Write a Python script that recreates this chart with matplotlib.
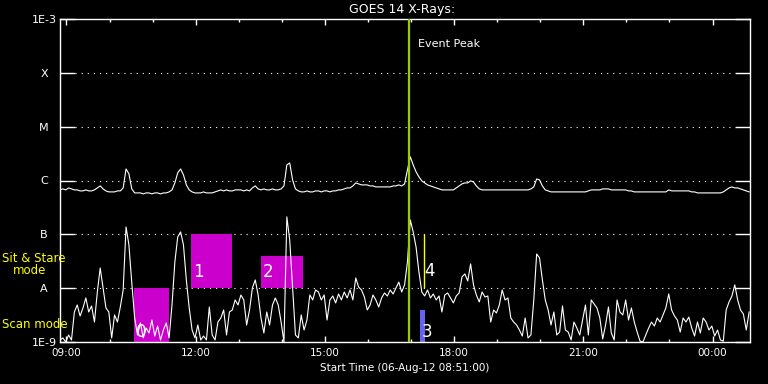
import numpy as np
import matplotlib.pyplot as plt
from matplotlib.patches import Rectangle
from matplotlib.ticker import FixedLocator, NullLocator

# time axis: hours of day, start 06-Aug-12 08:51, one sample every 4 min
start_hour = 8.85
cadence_min = 4

# GOES 14 long channel (1-8 A), in nW/m^2
long_nw = [
    669, 698, 669, 728, 698, 669, 669, 641, 641, 669, 641, 641, 669, 728, 793,
    698, 641, 614, 614, 614, 641, 641, 728, 1640, 1330, 698, 588, 588, 588, 564,
    588, 588, 564, 588, 588, 564, 588, 588, 614, 669, 902, 1390, 1640, 1270, 828,
    669, 614, 588, 588, 588, 614, 588, 588, 588, 614, 641, 669, 641, 669, 641,
    641, 669, 669, 669, 641, 669, 641, 728, 793, 698, 669, 698, 669, 669, 698,
    669, 669, 698, 793, 1950, 2120, 1025, 698, 641, 614, 614, 641, 614, 614, 641,
    641, 614, 641, 641, 614, 641, 641, 669, 669, 698, 728, 728, 793, 902, 864,
    828, 828, 828, 793, 793, 760, 760, 760, 760, 760, 760, 793, 793, 828, 793,
    864, 1574, 2750, 1950, 1450, 1170, 984, 902, 828, 793, 760, 728, 698, 669, 669,
    669, 669, 669, 728, 793, 864, 902, 902, 984, 941, 793, 698, 669, 669, 669,
    669, 669, 669, 669, 669, 669, 669, 669, 669, 669, 669, 669, 669, 669, 698,
    760, 1070, 1025, 793, 669, 641, 614, 614, 614, 614, 614, 614, 614, 614, 614,
    614, 614, 614, 614, 641, 669, 669, 669, 669, 698, 698, 698, 669, 669, 669,
    669, 669, 669, 641, 641, 614, 614, 614, 614, 614, 614, 614, 614, 614, 614,
    614, 614, 669, 641, 641, 641, 641, 641, 641, 641, 614, 614, 588, 588, 588,
    588, 588, 588, 588, 588, 588, 614, 669, 728, 760, 728, 728, 698, 669, 641, 614,
]

# GOES 14 short channel (0.5-4 A), in nW/m^2
short_nw = [
    1.09, 1.19, 1.0, 1.35, 1.09, 3.61, 4.87, 3.04, 4.29, 6.58, 3.61, 4.67, 2.35, 8.5, 23.7,
    10.1, 4.29, 3.61, 1.19, 3.18, 2.35, 4.47, 9.26, 137, 63.5, 12.5, 2.79, 1.35, 2.26, 1.19,
    1.82, 1.47, 2.56, 1.29, 1.98, 1.09, 1.67, 2.26, 1.19, 4.87, 30.7, 89.5, 111, 63.5, 14.2,
    4.29, 1.67, 1.19, 2.07, 1.09, 1.29, 1.09, 4.47, 1.35, 1.09, 2.35, 2.79, 3.93, 1.35, 3.61,
    3.93, 6.04, 4.87, 7.47, 6.04, 2.07, 3.93, 10.1, 14.2, 7.47, 2.79, 1.47, 3.61, 2.07, 4.87,
    6.58, 4.87, 2.35, 1.0, 211, 78.7, 10.5, 1.35, 1.19, 3.18, 1.67, 2.56, 7.47, 6.04, 9.26,
    8.5, 6.04, 7.47, 2.56, 6.04, 7.16, 5.31, 7.8, 6.04, 8.5, 6.58, 9.26, 6.04, 15.5, 10.5,
    9.26, 6.86, 3.93, 4.87, 7.47, 6.04, 4.47, 6.58, 8.14, 7.16, 9.26, 7.8, 10.1, 13.0, 8.5,
    11.5, 30.7, 185, 111, 58.3, 20.0, 8.5, 7.16, 9.26, 6.58, 7.8, 6.04, 7.16, 3.61, 7.47,
    8.14, 6.58, 5.31, 7.16, 8.14, 16.2, 18.4, 13.6, 28.2, 11.5, 7.47, 5.54, 8.5, 6.86, 7.16,
    2.35, 3.93, 3.46, 4.87, 9.26, 6.04, 6.58, 2.79, 2.35, 2.07, 1.67, 1.29, 2.79, 1.19, 1.35,
    6.04, 43.2, 36.4, 14.2, 6.04, 3.93, 2.07, 3.61, 1.35, 1.53, 4.67, 1.67, 1.53, 1.09, 2.35,
    1.82, 1.35, 2.56, 4.87, 1.35, 6.04, 5.09, 4.29, 2.79, 1.14, 2.07, 4.47, 1.47, 1.09, 6.04,
    3.61, 3.18, 6.04, 2.56, 4.29, 2.35, 1.53, 1.04, 1.0, 1.35, 1.82, 2.35, 1.98, 2.79, 2.35,
    3.18, 4.29, 7.8, 3.93, 3.04, 2.56, 1.53, 2.79, 2.35, 2.91, 1.82, 1.29, 2.35, 1.47, 2.79,
    2.35, 1.67, 1.98, 1.29, 1.67, 1.09, 1.04, 3.93, 5.54, 7.16, 11.5, 6.04, 3.93, 3.31, 1.67, 3.61,
]

# observation boxes
box_labels = ['0', '1', '2', '3']
box_start = [10.56, 11.90, 13.52, 17.21]
box_end = [11.37, 12.85, 14.50, 17.32]
box_low = [1e-9, 1e-8, 1e-8, 1e-9]
box_high = [1e-8, 1e-7, 4e-8, 3.9e-9]
box_colors = ['#cc00cc', '#cc00cc', '#cc00cc', '#6464f0']
line4_label = '4'
line4_time = 17.29
line4_low, line4_high = 1e-8, 1e-7

event_peak = 16.96

y_levels = [1e-9, 1e-8, 1e-7, 1e-6, 1e-5, 1e-4, 1e-3]
y_labels = ['1E-9', 'A', 'B', 'C', 'M', 'X', '1E-3']
x_ticks = [9, 12, 15, 18, 21, 24]
x_labels = ['09:00', '12:00', '15:00', '18:00', '21:00', '00:00']

W, H = 768, 384
fig = plt.figure(figsize=(W / 100, H / 100), dpi=100, facecolor='black')
ax = fig.add_axes([60 / W, 1 - 342 / H, 690 / W, 323 / H])
ax.set_facecolor('black')

t = start_hour + np.arange(len(short_nw)) * cadence_min / 60.0

ax.set_yscale('log')
ax.set_ylim(1e-9, 1e-3)
ax.set_xlim(start_hour, start_hour + 16.02)

# dotted level lines
for lv in y_levels[1:-1]:
    ax.axhline(lv, xmin=15 / 690, xmax=1 - 15 / 690, color='white',
               lw=0.8, ls=(0, (1, 4.5)), zorder=1)

for i in range(len(box_labels)):
    ax.add_patch(Rectangle((box_start[i], box_low[i]), box_end[i] - box_start[i],
                           box_high[i] - box_low[i], facecolor=box_colors[i],
                           edgecolor='none', zorder=2))
ax.vlines(line4_time, line4_low, line4_high, color='#ffff00', lw=1, zorder=2)

# label positions
lab_y = [1.53e-9, 2.0e-8, 2.0e-8, 1.53e-9]
for i in range(len(box_labels)):
    ax.annotate(box_labels[i], xy=(box_start[i], lab_y[i]), xytext=(2, 0),
                textcoords='offset pixels', color='white', fontsize=12,
                va='center', ha='left', zorder=2.5)
ax.annotate(line4_label, xy=(line4_time, 2.1e-8), xytext=(1, 0),
            textcoords='offset pixels', color='white', fontsize=12,
            va='center', ha='left', zorder=2.5)

ax.plot(t, np.array(long_nw) * 1e-9, color='white', lw=0.8, zorder=3)
ax.plot(t, np.array(short_nw) * 1e-9, color='white', lw=0.8, zorder=3)

ax.axvline(event_peak, color='#9acd00', lw=1.6, zorder=4)
ax.annotate('Event Peak', xy=(event_peak, 1), xycoords=('data', 'axes fraction'),
            xytext=(9, -25), textcoords='offset pixels', color='white',
            fontsize=8, va='center', ha='left')

# axes styling
for s in ax.spines.values():
    s.set_color('white')
    s.set_linewidth(1)

ax.yaxis.set_major_locator(FixedLocator(y_levels))
ax.yaxis.set_minor_locator(NullLocator())
ax.set_yticklabels(y_labels)
ax.tick_params(axis='y', which='major', direction='in', length=10.8, width=1,
               colors='white', left=True, right=True, labelsize=8, pad=11.5)
for lab in ax.get_yticklabels():
    lab.set_ha('center')

ax.set_xticks(x_ticks)
ax.set_xticklabels(x_labels)
ax.xaxis.set_minor_locator(FixedLocator(np.arange(9, 25)))
ax.tick_params(axis='x', which='major', direction='in', length=4.5, width=1,
               colors='white', top=True, bottom=True, labelsize=7.5, pad=4)
ax.tick_params(axis='x', which='minor', direction='in', length=2.2, width=1,
               colors='white', top=True, bottom=True)

fig.text(402 / W, 1 - 9 / H, 'GOES 14 X-Rays:', color='white', fontsize=9,
         ha='center', va='center')
fig.text(405 / W, 1 - 368 / H, 'Start Time (06-Aug-12 08:51:00)', color='white',
         fontsize=7.5, ha='center', va='center')
fig.text(2 / W, 1 - 258 / H, 'Sit & Stare', color='#ffff00', fontsize=8.5,
         ha='left', va='center')
fig.text(13 / W, 1 - 271 / H, 'mode', color='#ffff00', fontsize=8.5,
         ha='left', va='center')
fig.text(2 / W, 1 - 324 / H, 'Scan mode', color='#ffff00', fontsize=8.5,
         ha='left', va='center')

fig.savefig('out.png', dpi=100, facecolor='black')
